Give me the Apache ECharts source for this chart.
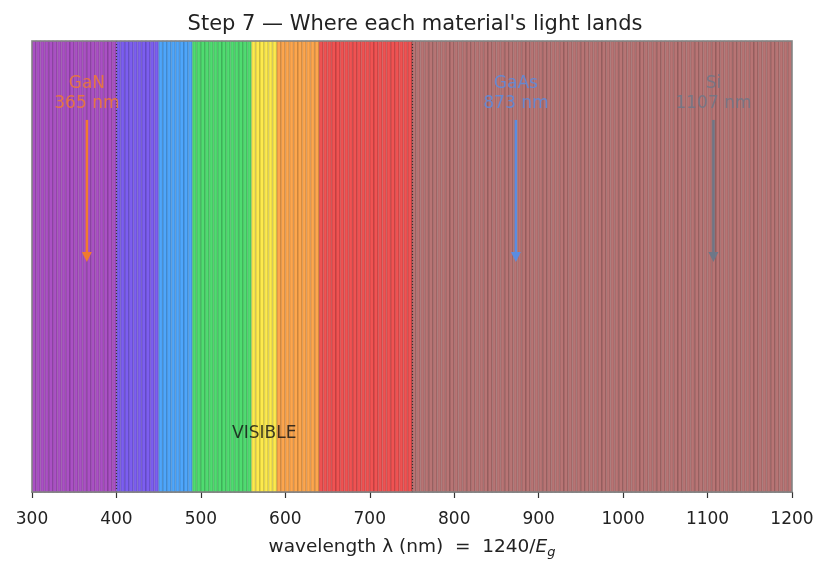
<!DOCTYPE html>
<html>
<head>
<meta charset="utf-8">
<script src="https://cdn.jsdelivr.net/npm/echarts@6/dist/echarts.min.js"></script>
<style>
  html, body { margin: 0; padding: 0; background: #fff; }
  #chart { width: 830px; height: 574px; }
</style>
</head>
<body>
<div id="chart"></div>
<script>
// spectrum bands (nm) and their colours
const bandStart = [300, 400, 450, 490, 560, 590, 640, 750];
const bandEnd = [400, 450, 490, 560, 590, 640, 750, 1200];
const bandColor = ['#aa50c4', '#7c5ef0', '#4ea6fb', '#4fdc70', '#fdea4c', '#fda64d', '#f05252', '#b87474'];
const stripeStep = 5;

// materials and emission wavelength
const materials = ['GaN', 'GaAs', 'Si'];
const wavelengths = [365, 873, 1107];
const materialColor = ['#f07a30', '#5b8ce0', '#6e7787'];

const visibleEdges = [400, 750];

// build stripe cells from the bands
let stripes = [];
bandStart.forEach(function (s, i) {
  for (let x = s; x < bandEnd[i]; x += stripeStep) {
    stripes.push([x, Math.min(x + stripeStep, bandEnd[i]), i]);
  }
});

let chart = echarts.init(document.getElementById('chart'));
const font = 'DejaVu Sans';

chart.setOption({
  animation: false,
  title: {
    text: "Step 7 — Where each material's light lands",
    left: 'center',
    top: 9,
    textStyle: { fontFamily: font, fontWeight: 'normal', fontSize: 21, color: '#222' }
  },
  grid: {
    left: 32, right: 38, top: 41, bottom: 82,
    show: true, borderColor: '#858585', borderWidth: 1.5, backgroundColor: 'transparent', z: 10
  },
  xAxis: {
    type: 'value', min: 300, max: 1200, interval: 100,
    axisLine: { show: true, lineStyle: { color: '#858585', width: 1.5 } },
    axisTick: { show: true, length: 6, lineStyle: { color: '#333', width: 1.2 } },
    splitLine: { show: false },
    axisLabel: { fontFamily: font, fontSize: 17, color: '#222', margin: 19, formatter: function (v) { return String(v); } },
    name: 'wavelength λ (nm)  =  1240/{i|E}{s|g}',
    nameLocation: 'middle',
    nameGap: 43,
    nameTextStyle: {
      fontFamily: font, fontSize: 18.5, color: '#222',
      rich: {
        i: { fontFamily: font, fontStyle: 'italic', fontSize: 18.5, color: '#222' },
        s: { fontFamily: font, fontStyle: 'italic', fontSize: 13, color: '#222', padding: [11, 0, 0, 0] }
      }
    }
  },
  yAxis: {
    type: 'value', min: 0, max: 1, show: false
  },
  series: [
    {
      type: 'custom',
      data: stripes,
      renderItem: function (params, api) {
        let p0 = api.coord([api.value(0), 1]);
        let p1 = api.coord([api.value(1), 0]);
        return {
          type: 'rect',
          shape: { x: p0[0], y: p0[1], width: p1[0] - p0[0], height: p1[1] - p0[1] },
          style: { fill: bandColor[api.value(2)], stroke: 'rgba(0,0,0,0.1)', lineWidth: 2 }
        };
      },
      markLine: {
        silent: true,
        symbol: 'none',
        label: { show: false },
        lineStyle: { color: '#333', type: [1, 2], width: 1.2 },
        data: visibleEdges.map(function (v) { return { xAxis: v }; })
      },
      z: 1
    },
    {
      type: 'custom',
      data: wavelengths.map(function (w, i) { return [w, i]; }),
      renderItem: function (params, api) {
        let i = api.value(1);
        let top = api.coord([api.value(0), 0.825]);
        let bot = api.coord([api.value(0), 0.51]);
        let lab = api.coord([api.value(0), 0.883]);
        let c = materialColor[i];
        return {
          type: 'group',
          children: [
            { type: 'line', shape: { x1: top[0], y1: top[1], x2: bot[0], y2: bot[1] - 8 },
              style: { stroke: c, lineWidth: 2.5 } },
            { type: 'polygon', shape: { points: [[bot[0] - 5, bot[1] - 10], [bot[0] + 5, bot[1] - 10], [bot[0], bot[1]]] },
              style: { fill: c } },
            { type: 'text', x: lab[0], y: lab[1],
              style: { text: materials[i] + '\n' + wavelengths[i] + ' nm', fill: c, opacity: 0.85,
                align: 'center', verticalAlign: 'middle', font: '17px "DejaVu Sans"', lineHeight: 20 } }
          ]
        };
      },
      z: 5
    },
    {
      type: 'scatter',
      data: [[575, 0.129]],
      symbolSize: 0,
      label: { show: true, formatter: 'VISIBLE', position: 'inside', fontFamily: font, fontSize: 17, color: '#111' },
      z: 6
    }
  ]
});
</script>
</body>
</html>
